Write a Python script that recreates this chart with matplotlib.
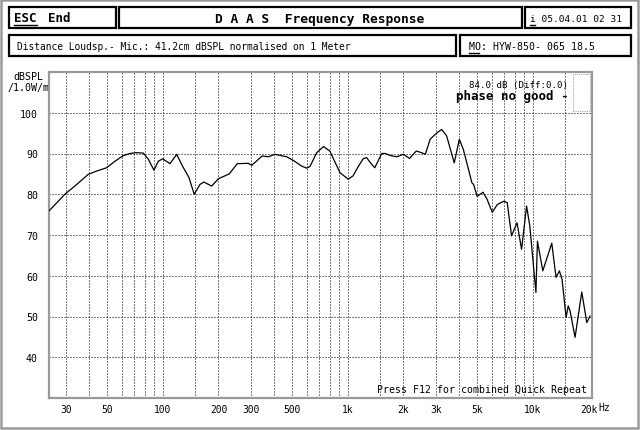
import numpy as np
import matplotlib.pyplot as plt
from matplotlib.patches import Rectangle

# frequency response
freq_hz = [24.3, 29.6, 34.3, 39.6, 44.0, 49.8, 55.2, 61.3, 66.6, 72, 78.6, 83.6, 89.7, 94.7,
           100, 109.5, 119, 128, 138.7, 148, 159, 167, 184, 200, 229, 253, 290, 303, 345,
           372, 404, 468, 508, 564, 600, 625, 680, 740, 800, 908, 1006, 1068, 1140, 1212,
           1264, 1328, 1400, 1527, 1590, 1700, 1839, 1999, 2158, 2346, 2468, 2627, 2790,
           3003, 3216, 3420, 3570, 3765, 4010, 4215, 4495, 4690, 4790, 5000, 5385, 5660,
           6040, 6440, 6990, 7280, 7680, 8220, 8700, 9260, 9640, 10400, 10600, 11330,
           12670, 13360, 13930, 14400, 15140, 15550, 15900, 16930, 18400, 19590, 20400]
spl_db = [75.9, 80.0, 82.4, 84.9, 85.7, 86.5, 88.1, 89.5, 90.0, 90.2, 90.1, 88.6, 85.9, 88.1,
          88.7, 87.5, 89.8, 86.9, 84.1, 80.0, 82.4, 83.0, 82.0, 83.8, 85.0, 87.5, 87.6, 87.1, 89.4,
          89.2, 89.8, 89.2, 88.3, 86.9, 86.4, 86.8, 90.2, 91.7, 90.6, 85.3, 83.7, 84.5, 86.8, 88.7,
          89.0, 87.7, 86.5, 90.0, 90.0, 89.5, 89.2, 89.8, 88.8, 90.6, 90.3, 89.8, 93.5,
          94.9, 95.9, 94.4, 91.4, 87.7, 93.5, 91.0, 86.1, 82.8, 82.4, 79.5, 80.5, 78.8,
          75.6, 77.5, 78.3, 77.9, 69.8, 73.0, 66.5, 77.1, 72.2, 55.9, 68.5, 61.2,
          68.0, 59.6, 61.2, 59.1, 49.8, 52.6, 51.4, 44.9, 56.0, 48.5, 50.1]

x_grid = [30, 40, 50, 60, 70, 80, 90, 100, 150, 200, 300, 400, 500, 600, 700, 800, 900,
          1000, 1500, 2000, 3000, 4000, 5000, 6000, 7000, 8000, 9000, 10000, 15000]
x_ticks = [30, 50, 100, 200, 300, 500, 1000, 2000, 3000, 5000, 10000, 20000]
x_labels = ['30', '50', '100', '200', '300', '500', '1k', '2k', '3k', '5k', '10k', '20k']
y_ticks = [40, 50, 60, 70, 80, 90, 100]

W, H = 640, 431
fig = plt.figure(figsize=(6.4, 4.31), dpi=100)
fig.patch.set_facecolor('white')

# overlay in pixel coords for the screen furniture
ov = fig.add_axes([0, 0, 1, 1])
ov.set_xlim(0, W)
ov.set_ylim(H, 0)
ov.axis('off')

def box(x0, y0, x1, y1, lw=1.6, color='black'):
    ov.add_patch(Rectangle((x0, y0), x1 - x0, y1 - y0, fill=False, lw=lw, ec=color))

box(1, 1, 638, 429, lw=1.8, color='#9a9a9a')
box(9, 8, 116, 29)
box(119, 8, 522, 29)
box(525, 8, 631, 29)
box(9, 36, 456, 57)
box(460, 36, 631, 57)

mono = 'DejaVu Sans Mono'
ov.text(14, 19, 'ESC', fontsize=9, fontweight='bold', family=mono, va='center')
ov.plot([14, 37], [26, 26], color='black', lw=1)
ov.text(48, 19, 'End', fontsize=9, fontweight='bold', family=mono, va='center')
ov.text(320, 19.5, 'D A A S  Frequency Response', fontsize=9.3, fontweight='bold',
        family=mono, ha='center', va='center')
ov.text(530, 19, 'i 05.04.01 02 31', fontsize=6.8, family=mono, va='center')
ov.plot([530, 535], [26, 26], color='black', lw=1)
ov.text(17, 47, 'Distance Loudsp.- Mic.: 41.2cm dBSPL normalised on 1 Meter', fontsize=6.9,
        family=mono, va='center')
ov.text(469, 47, 'MO: HYW-850- 065 18.5', fontsize=7.1, family=mono, va='center')
ov.plot([469, 479], [54, 54], color='black', lw=1)
ov.text(28, 77, 'dBSPL', fontsize=7.2, family=mono, ha='center', va='center')
ov.text(49.5, 88, '/1.0W/m', fontsize=7.2, family=mono, ha='right', va='center')
ov.text(598.5, 408.5, 'Hz', fontsize=7, family=mono, ha='left', va='center')

ax = fig.add_axes([49 / W, (H - 399) / H, 543 / W, 326 / H])
ax.set_zorder(2)
ax.patch.set_alpha(0)
ax.set_xscale('log')
ax.set_xlim(24.3, 20900)
ax.set_ylim(30, 110)

for f in x_grid:
    ax.axvline(f, color='black', lw=0.72, ls=(0, (1, 2)), zorder=1)
for v in y_ticks:
    ax.axhline(v, color='black', lw=0.72, ls=(0, (1, 2)), zorder=1)

ax.plot(freq_hz, spl_db, color='black', lw=0.9, zorder=3)

ax.set_xticks(x_ticks)
ax.set_xticklabels(x_labels, family=mono, fontsize=6.9)
ax.xaxis.set_minor_locator(plt.NullLocator())
ax.set_yticks(y_ticks)
ax.set_yticklabels([str(v) for v in y_ticks], family=mono, fontsize=7.1)
ax.tick_params(length=0)
ax.tick_params(axis='x', pad=4.5)
ax.tick_params(axis='y', pad=8)
for s in ax.spines.values():
    s.set_color('#9a9a9a')
    s.set_linewidth(1.6)

ax.text(0.956, 0.962, '84.0 dB (Diff:0.0)', transform=ax.transAxes, fontsize=6.6,
        family=mono, ha='right', va='center')
ax.text(0.956, 0.928, 'phase no good -', transform=ax.transAxes, fontsize=9,
        fontweight='bold', family=mono, ha='right', va='center')
ax.add_patch(Rectangle((0.965, 0.88), 0.032, 0.115, transform=ax.transAxes, fill=False,
                       ec='#aaaaaa', lw=0.8, ls=(0, (1, 1))))
ax.text(0.991, 0.012, 'Press F12 for combined Quick Repeat', transform=ax.transAxes,
        fontsize=7.1, family=mono, ha='right', va='bottom')

fig.savefig('out.png', dpi=100)
